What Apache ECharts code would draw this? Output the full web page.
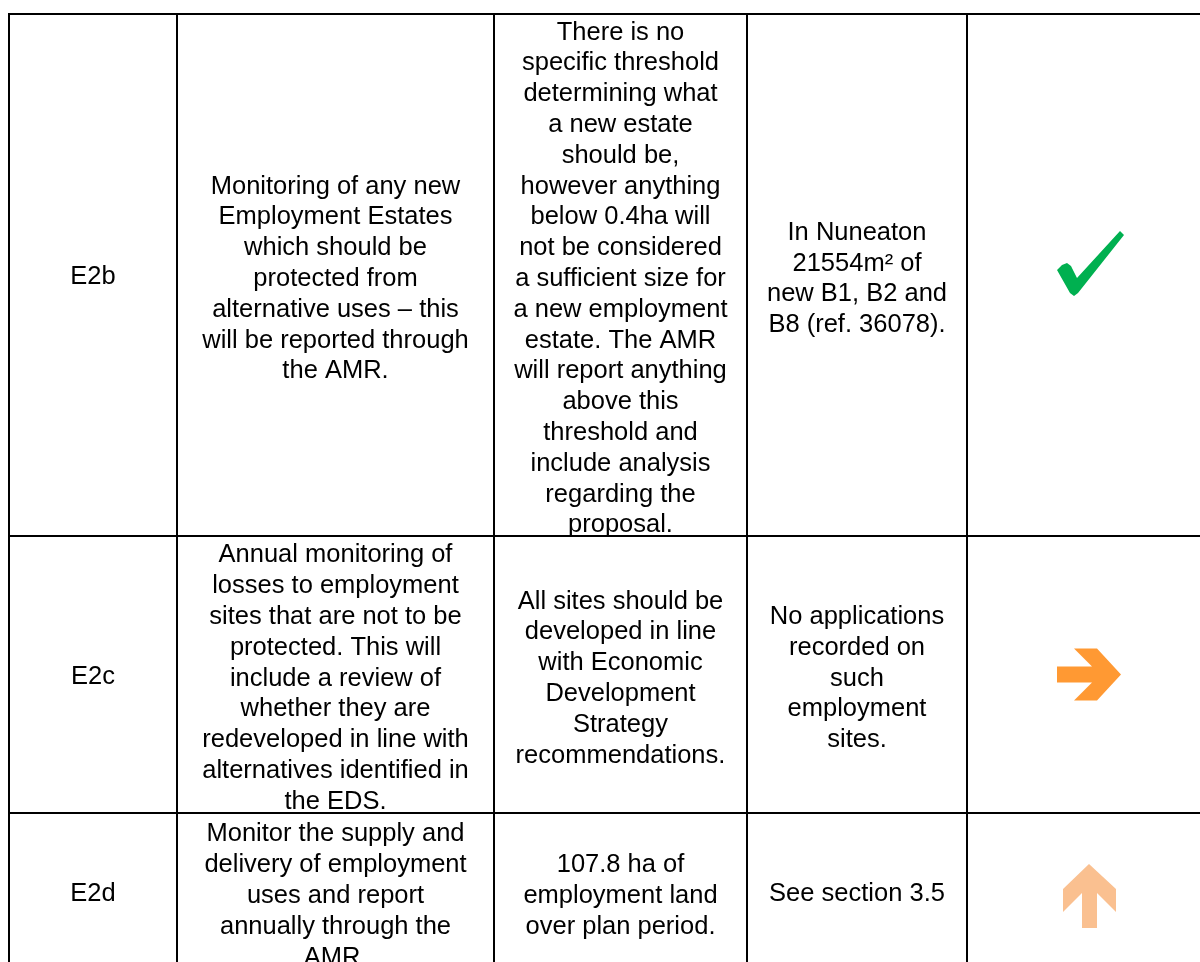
<!DOCTYPE html>
<html>
<head>
<meta charset="utf-8">
<script src="https://cdn.jsdelivr.net/npm/echarts@6/dist/echarts.min.js"></script>
<style>
html,body{margin:0;padding:0;background:#fff;}
#chart{width:1200px;height:962px;}
</style>
</head>
<body>
<div id="chart"></div>
<script>
// ---- table content ----
var refs = ['E2b', 'E2c', 'E2d'];
var indicators = [
  'Monitoring of any new\nEmployment Estates\nwhich should be\nprotected from\nalternative uses \u2013 this\nwill be reported through\nthe AMR.',
  'Annual monitoring of\nlosses to employment\nsites that are not to be\nprotected. This will\ninclude a review of\nwhether they are\nredeveloped in line with\nalternatives identified in\nthe EDS.',
  'Monitor the supply and\ndelivery of employment\nuses and report\nannually through the\nAMR.'
];
var targets = [
  'There is no\nspecific threshold\ndetermining what\na new estate\nshould be,\nhowever anything\nbelow 0.4ha will\nnot be considered\na sufficient size for\na new employment\nestate. The AMR\nwill report anything\nabove this\nthreshold and\ninclude analysis\nregarding the\nproposal.',
  'All sites should be\ndeveloped in line\nwith Economic\nDevelopment\nStrategy\nrecommendations.',
  '107.8 ha of\nemployment land\nover plan period.'
];
var progress = [
  'In Nuneaton\n21554m\u00b2 of\nnew B1, B2 and\nB8 (ref. 36078).',
  'No applications\nrecorded on\nsuch\nemployment\nsites.',
  'See section 3.5'
];
var statuses = ['achieved', 'onTrack', 'improving'];

// ---- layout (axis units = page pixels) ----
var colEdges = [9, 177, 494, 747, 967, 1213];
var rowEdges = [14, 536, 813, 971];
var FONT_FAMILY = 'Liberation Sans';
var FONT_SIZE = 25.5;
var LINE_H = 30.8;

var iconShapes = {
  achieved: {color: '#00B050', pts: [[-33,-5],[-28,-10],[-23,-12],[-19,-9],[-13,3],[30,-44],[34,-40],[-12,18],[-16,21],[-20,18]]},
  onTrack: {color: '#FF9933', pts: [[-33,-8],[2,-8],[-16,-26],[7,-26],[31,0],[7,26],[-16,26],[2,8],[-33,8]]},
  improving: {color: '#FAC090', pts: [[-1,-28],[26,-3],[26,20],[7,1],[7,36],[-8,36],[-8,1],[-27,20],[-27,-3]]}
};

// build cell data: [col, row, text]
var cells = [];
for (var r = 0; r < refs.length; r++) {
  cells.push([0, r, refs[r]]);
  cells.push([1, r, indicators[r]]);
  cells.push([2, r, targets[r]]);
  cells.push([3, r, progress[r]]);
  cells.push([4, r, '']);
}
var icons = statuses.map(function (s, r) { return [4, r, s]; });

function cellRect(api, c, r) {
  var p0 = api.coord([colEdges[c], rowEdges[r]]);
  var p1 = api.coord([colEdges[c + 1], rowEdges[r + 1]]);
  return {x: p0[0], y: p0[1], w: p1[0] - p0[0], h: p1[1] - p0[1]};
}

var chart = echarts.init(document.getElementById('chart'));
chart.setOption({
  animation: false,
  backgroundColor: '#ffffff',
  grid: {left: 0, right: 0, top: 0, bottom: 0},
  xAxis: {type: 'value', min: 0, max: 1200, show: false},
  yAxis: {type: 'value', min: 0, max: 962, inverse: true, show: false},
  series: [
    {
      type: 'custom',
      data: cells,
      clip: false,
      renderItem: function (params, api) {
        var d = cells[params.dataIndex];
        var rc = cellRect(api, d[0], d[1]);
        var multi = d[2].indexOf('\n') >= 0;
        return {
          type: 'group',
          children: [
            {type: 'rect', shape: {x: rc.x, y: rc.y, width: rc.w, height: rc.h},
             style: {fill: null, stroke: '#000', lineWidth: 2}},
            {type: 'text', style: {
              text: d[2], x: rc.x + rc.w / 2, y: rc.y + rc.h / 2 + (multi ? 4 : 2),
              align: 'center', verticalAlign: 'middle',
              fontFamily: FONT_FAMILY, fontSize: FONT_SIZE, lineHeight: LINE_H, fill: '#000'
            }}
          ]
        };
      }
    },
    {
      type: 'custom',
      data: icons,
      clip: false,
      renderItem: function (params, api) {
        var d = icons[params.dataIndex];
        var rc = cellRect(api, d[0], d[1]);
        var cx = rc.x + rc.w / 2, cy = rc.y + rc.h / 2;
        var ic = iconShapes[d[2]];
        return {
          type: 'polygon',
          shape: {points: ic.pts.map(function (p) { return [cx + p[0], cy + p[1]]; })},
          style: {fill: ic.color}
        };
      }
    }
  ]
});
</script>
</body>
</html>
